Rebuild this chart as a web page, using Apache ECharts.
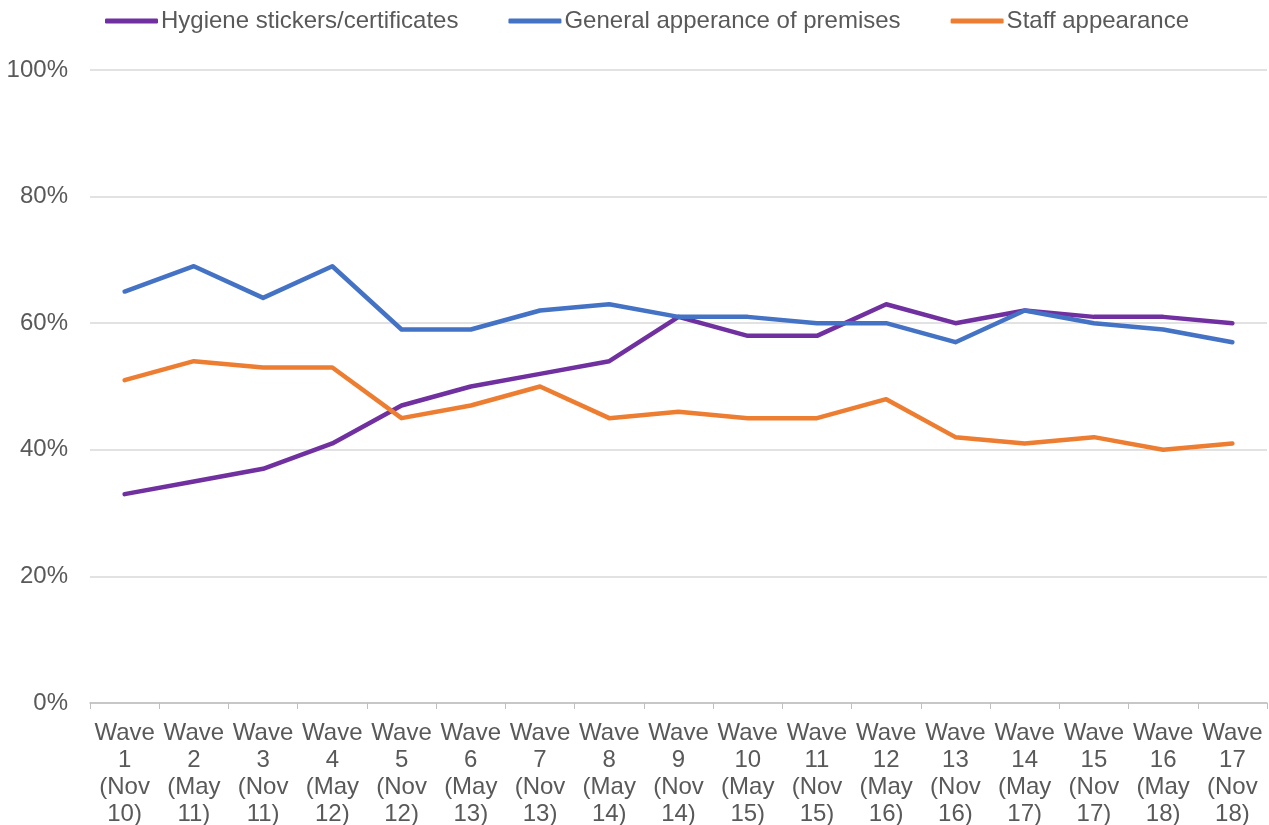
<!DOCTYPE html>
<html>
<head>
<meta charset="utf-8">
<script src="https://cdn.jsdelivr.net/npm/echarts@6/dist/echarts.min.js"></script>
<style>
    html, body { margin: 0; padding: 0; background: #fff; }
    #main { width: 1269px; height: 825px; }
</style>
</head>
<body>
<div id="main"></div>
<script>
    // categories
    var waves = ['Wave\n1\n(Nov\n10)', 'Wave\n2\n(May\n11)', 'Wave\n3\n(Nov\n11)', 'Wave\n4\n(May\n12)',
        'Wave\n5\n(Nov\n12)', 'Wave\n6\n(May\n13)', 'Wave\n7\n(Nov\n13)', 'Wave\n8\n(May\n14)',
        'Wave\n9\n(Nov\n14)', 'Wave\n10\n(May\n15)', 'Wave\n11\n(Nov\n15)', 'Wave\n12\n(May\n16)',
        'Wave\n13\n(Nov\n16)', 'Wave\n14\n(May\n17)', 'Wave\n15\n(Nov\n17)', 'Wave\n16\n(May\n18)',
        'Wave\n17\n(Nov\n18)']

    // series values (%)
    var hygiene = [33, 35, 37, 41, 47, 50, 52, 54, 61, 58, 58, 63, 60, 62, 61, 61, 60]
    var premises = [65, 69, 64, 69, 59, 59, 62, 63, 61, 61, 60, 60, 57, 62, 60, 59, 57]
    var staff = [51, 54, 53, 53, 45, 47, 50, 45, 46, 45, 45, 48, 42, 41, 42, 40, 41]

    var names = ['Hygiene stickers/certificates', 'General apperance of premises', 'Staff appearance']
    var colors = ['#7030A0', '#4472C4', '#ED7D31']

    var font = 'Liberation Sans, Arial, sans-serif'

    function line (name, data, color) {
        return {
            name: name,
            type: 'line',
            data: data,
            symbol: 'none',
            lineStyle: { color: color, width: 4.5, cap: 'round', join: 'round' },
            itemStyle: { color: color }
        }
    }

    var myChart = echarts.init(document.getElementById('main'))

    myChart.setOption({
        animation: false,
        textStyle: { fontFamily: font },
        color: colors,
        legend: {
            top: 9,
            left: 105,
            padding: 0,
            itemWidth: 53,
            itemHeight: 5,
            itemGap: 50,
            icon: 'roundRect',
            textStyle: { fontSize: 24, color: '#595959', fontFamily: font, padding: [0, 0, 0, -2] },
            data: names
        },
        grid: { left: 90, right: 2, top: 70, bottom: 122, containLabel: false, outerBoundsMode: 'none' },
        xAxis: {
            type: 'category',
            data: waves,
            boundaryGap: true,
            axisLine: { lineStyle: { color: '#bfbfbf', width: 1.5 } },
            axisTick: { show: true, length: 6, lineStyle: { color: '#bfbfbf' } },
            axisLabel: {
                interval: 0,
                fontSize: 24,
                lineHeight: 27,
                color: '#595959',
                margin: 17,
                fontFamily: font
            }
        },
        yAxis: {
            type: 'value',
            min: 0,
            max: 100,
            interval: 20,
            axisLine: { show: false },
            axisTick: { show: false },
            splitLine: { lineStyle: { color: '#d9d9d9', width: 1.5 } },
            axisLabel: {
                formatter: '{value}%',
                fontSize: 24,
                color: '#595959',
                margin: 22,
                fontFamily: font
            }
        },
        series: [
            line(names[0], hygiene, colors[0]),
            line(names[1], premises, colors[1]),
            line(names[2], staff, colors[2])
        ]
    })
</script>
</body>
</html>
